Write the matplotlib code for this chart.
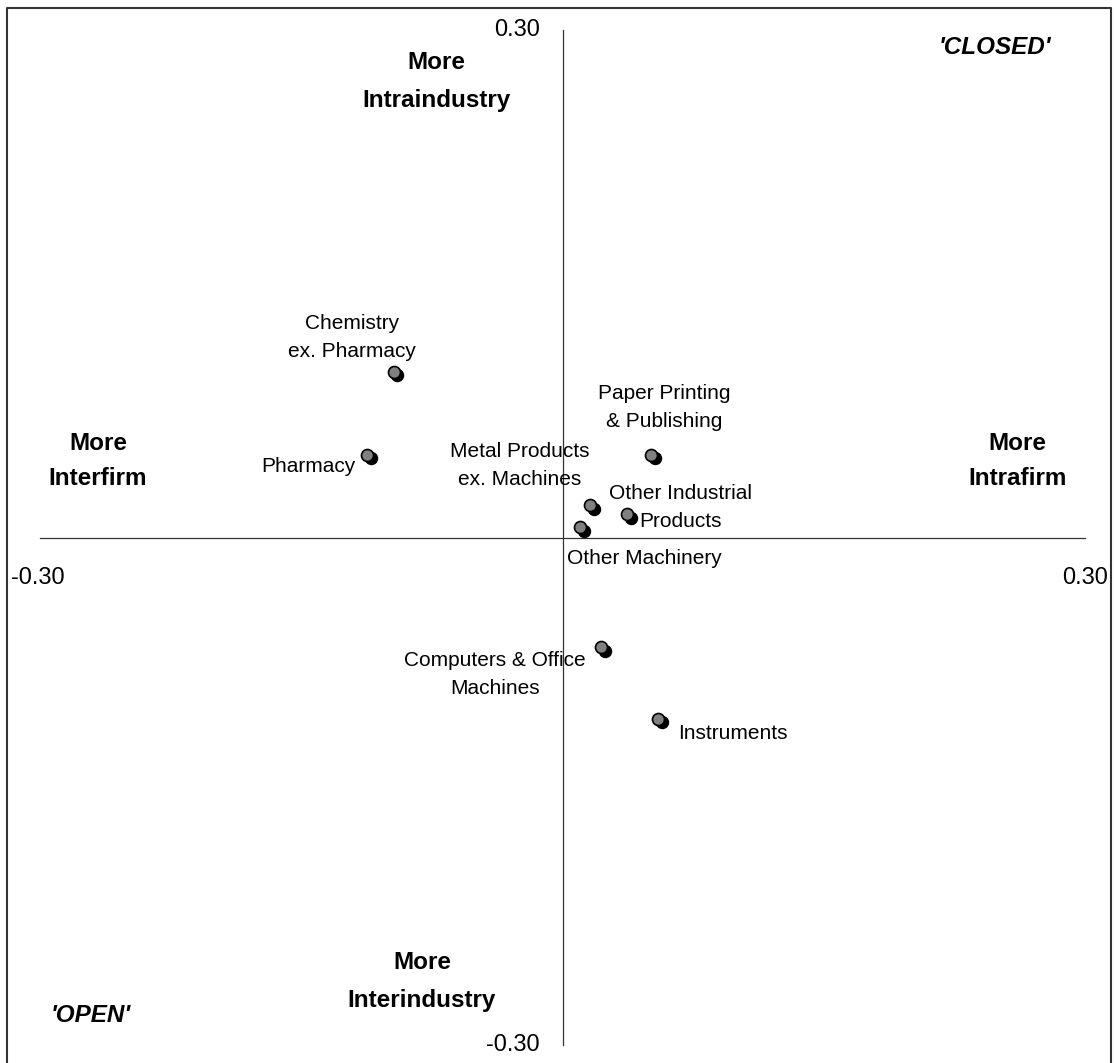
import matplotlib.pyplot as plt
from matplotlib.lines import Line2D

plt.rcParams['font.family'] = ['Liberation Sans', 'DejaVu Sans']

# sectors: (x = intrafirm vs interfirm, y = intraindustry vs interindustry)
sectors = ['Chemistry\nex. Pharmacy', 'Pharmacy', 'Paper Printing\n& Publishing',
           'Metal Products\nex. Machines', 'Other Industrial\nProducts', 'Other Machinery',
           'Computers & Office\nMachines', 'Instruments']
x_vals = [-0.097, -0.112, 0.051, 0.016, 0.037, 0.010, 0.022, 0.055]
y_vals = [0.098, 0.049, 0.049, 0.019, 0.014, 0.006, -0.065, -0.107]

W, H = 1114, 1063
fig = plt.figure(figsize=(W / 100, H / 100), dpi=100)
ax = fig.add_axes([40 / W, (H - 1045) / H, 1045 / W, 1015 / H])
ax.set_xlim(-0.3, 0.3)
ax.set_ylim(-0.3, 0.3)
ax.axis('off')

# cross axes
ax.plot([-0.3, 0.3], [0, 0], color='#333333', lw=0.9, clip_on=False)
ax.plot([0, 0], [-0.3, 0.3], color='#333333', lw=0.9, clip_on=False)

# outer frame (left, top, right)
fig.add_artist(Line2D([7 / W, 7 / W, 1111 / W, 1111 / W], [0, 1 - 8 / H, 1 - 8 / H, 0],
                      transform=fig.transFigure, color='#333333', lw=1.5))

# points with shadow
sh = 0.0022
ax.scatter([x + sh for x in x_vals], [y - sh for y in y_vals], s=75, color='black', zorder=3)
ax.scatter(x_vals, y_vals, s=75, color='#808080', edgecolors='black', linewidths=1.2, zorder=4)

fs = 15
lbl = dict(fontsize=fs, linespacing=1.6)
ax.text(-0.1209, 0.1185, sectors[0], ha='center', va='center', **lbl)
ax.text(-0.1191, 0.0417, sectors[1], ha='right', va='center', **lbl)
ax.text(0.0583, 0.0766, sectors[2], ha='center', va='center', **lbl)
ax.text(-0.0244, 0.0423, sectors[3], ha='center', va='center', **lbl)
ax.text(0.0680, 0.0180, sectors[4], ha='center', va='center', **lbl)
ax.text(0.0468, -0.0127, sectors[5], ha='center', va='center', **lbl)
ax.text(-0.0388, -0.0807, sectors[6], ha='center', va='center', **lbl)
ax.text(0.0663, -0.1156, sectors[7], ha='left', va='center', **lbl)

# axis end labels
tfs = 17
ax.text(-0.013, 0.3, '0.30', ha='right', va='center', fontsize=tfs)
ax.text(-0.013, -0.3, '-0.30', ha='right', va='center', fontsize=tfs)
ax.text(-0.3011, -0.0239, '-0.30', ha='center', va='center', fontsize=tfs)
ax.text(0.3132, -0.0239, '0.30', ha='right', va='center', fontsize=tfs)

# quadrant direction labels
bfs = 17.5
bl = dict(fontsize=bfs, fontweight='bold', ha='center', va='center')
ax.text(-0.0723, 0.2698, 'More\nIntraindustry', linespacing=1.83, **bl)
ax.text(-0.0807, -0.2625, 'More\nInterindustry', linespacing=1.83, **bl)
ax.text(-0.2667, 0.0452, 'More\nInterfirm', linespacing=1.68, **bl)
ax.text(0.2610, 0.0452, 'More\nIntrafirm', linespacing=1.68, **bl)
ax.text(0.2484, 0.2899, "'CLOSED'", fontsize=bfs, fontweight='bold', style='italic', ha='center', va='center')
ax.text(-0.2706, -0.2824, "'OPEN'", fontsize=bfs, fontweight='bold', style='italic', ha='center', va='center')

fig.savefig('out.png', dpi=100, facecolor='white')
